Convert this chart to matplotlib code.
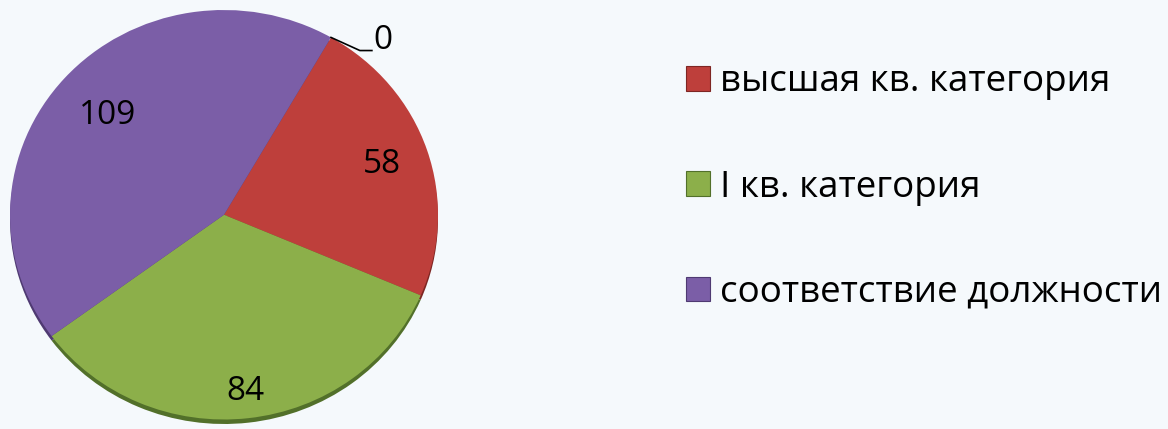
import matplotlib
matplotlib.use("Agg")
import matplotlib.pyplot as plt
import numpy as np

plt.rcParams['font.family'] = ['Open Sans', 'DejaVu Sans']

categories = ["", "высшая кв. категория", "I кв. категория", "соответствие должности"]
values = [0, 58, 84, 109]
colors = ["#4F81BD", "#BE3F3B", "#8CAF4A", "#7B5EA7"]
rim_colors = ["#3A5F8C", "#7E2623", "#52702A", "#4F3A72"]
label_dist = [1.0, 0.78, 0.87, 0.73]

W, H = 1168, 429
fig = plt.figure(figsize=(W / 100, H / 100), dpi=100)
fig.patch.set_facecolor("#F5F9FC")

# pie axes (pixel box)
px_l, px_t, px_r, px_b = 10, 10, 438, 424
ax = fig.add_axes([px_l / W, 1 - px_b / H, (px_r - px_l) / W, (px_b - px_t) / H])

start = 60  # 30 degrees clockwise from 12 o'clock
# rim (3D shadow)
ax.pie(values, colors=rim_colors, startangle=start, counterclock=False,
       radius=1.0, center=(0, -0.022), wedgeprops=dict(linewidth=0))
wedges, _ = ax.pie(values, colors=colors, startangle=start, counterclock=False,
                   radius=1.0, center=(0, 0), wedgeprops=dict(linewidth=0))
ax.set_aspect("auto")
ax.set_xlim(-1.0, 1.0)
ax.set_ylim(-1.022, 1.0)
ax.axis("off")

for w, v, d in zip(wedges, values, label_dist):
    if v == 0:
        continue
    ang = np.deg2rad((w.theta1 + w.theta2) / 2)
    ax.text(d * np.cos(ang), d * np.sin(ang), str(v), ha="center", va="center",
            fontsize=24, color="black")

# zero-value label with leader line
for w, v in zip(wedges, values):
    if v != 0:
        continue
    ang = np.deg2rad(w.theta1)
    x0, y0 = np.cos(ang), np.sin(ang)
    x1, y1 = x0 + 0.135, y0 - 0.064
    x2 = x1 + 0.056
    ax.plot([x0, x1, x2], [y0, y1, y1], color="black", lw=1.2, clip_on=False)
    ax.text(x2 + 0.008, y1 + 0.05, str(v), ha="left", va="center",
            fontsize=24, color="black", clip_on=False)

# legend
handles = [plt.Rectangle((0, 0), 1, 1, facecolor=c, edgecolor=rc, lw=0.8)
           for c, rc, cat in zip(colors, rim_colors, categories) if cat]
labels = [cat for cat in categories if cat]
leg = fig.legend(handles, labels, loc="upper left",
                 bbox_to_anchor=(668 / W, 1 - 46 / H), frameon=False,
                 fontsize=26.5, handlelength=0.65, handleheight=0.65,
                 handletextpad=0.25, labelspacing=1.88, borderpad=0)

fig.savefig("out.png", dpi=100, facecolor=fig.get_facecolor())
